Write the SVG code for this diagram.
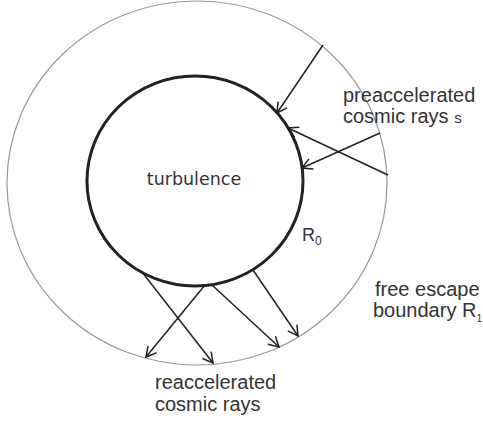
<svg xmlns="http://www.w3.org/2000/svg" width="483" height="425" viewBox="0 0 483 425">
<style>
.lbl{font-family:"Liberation Sans",Arial,sans-serif;font-size:20px;fill:#333}
.ray{stroke:#222;stroke-width:1.5;fill:none;marker-end:url(#ah)}
</style>
<defs>
<marker id="ah" markerWidth="14" markerHeight="14" refX="12" refY="7" orient="auto" markerUnits="userSpaceOnUse">
<path d="M2,1.5 L12,7 L2,12.5" fill="none" stroke="#222" stroke-width="1.5"/>
</marker>
</defs>
<rect width="483" height="425" fill="#fff"/>
<g id="boundary">
<ellipse cx="197" cy="183" rx="190" ry="182" fill="none" stroke="#999" stroke-width="1.2"/>
</g>
<g id="turbulence">
<ellipse cx="195" cy="181" rx="108" ry="105" fill="none" stroke="#222" stroke-width="3"/>
<text x="194" y="185" text-anchor="middle" style="font-family:'DejaVu Sans',sans-serif;font-size:17.5px;fill:#333">turbulence</text>
</g>
<g id="connectors">
<line class="ray" x1="323" y1="45" x2="277" y2="113"/>
<line class="ray" x1="388" y1="175" x2="288" y2="128"/>
<line class="ray" x1="380" y1="133" x2="302" y2="168"/>
<line class="ray" x1="142" y1="272" x2="213" y2="363"/>
<line class="ray" x1="205" y1="285" x2="146" y2="357"/>
<line class="ray" x1="212" y1="285" x2="279" y2="347"/>
<line class="ray" x1="253" y1="270" x2="298" y2="336"/>
</g>
<g id="labels">
<text class="lbl" x="343" y="102">preaccelerated</text>
<text class="lbl" x="343" y="123">cosmic rays <tspan style="font-size:15px">s</tspan></text>
<text class="lbl" x="302" y="241" style="font-size:18px">R<tspan dy="4" style="font-size:12px">0</tspan></text>
<text class="lbl" x="375" y="296">free escape</text>
<text class="lbl" x="373" y="317">boundary R<tspan dy="5" style="font-size:10px">1</tspan></text>
<text class="lbl" x="155" y="389">reaccelerated</text>
<text class="lbl" x="155" y="411">cosmic rays</text>
</g>
</svg>
